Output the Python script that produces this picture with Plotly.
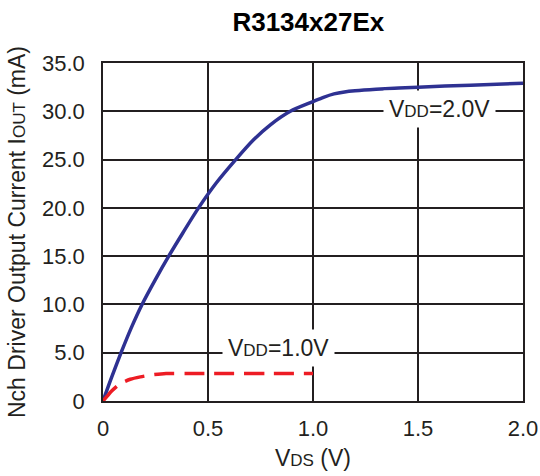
import plotly.graph_objects as go

# Data
vds_2v = [0, 0.04, 0.086, 0.135, 0.186, 0.25, 0.313, 0.38, 0.455, 0.54, 0.632, 0.717, 0.797, 0.892, 1.0, 1.05, 1.1, 1.15, 1.2, 1.3, 1.5, 1.75, 2.0]
iout_2v = [0, 2.4, 5.0, 7.6, 10.0, 12.6, 15.0, 17.4, 20.0, 22.6, 25.0, 27.05, 28.6, 30.0, 31.0, 31.45, 31.8, 32.0, 32.12, 32.28, 32.5, 32.7, 32.9]

vds_1v = [0, 0.02, 0.04, 0.082, 0.13, 0.178, 0.23, 0.3, 0.4, 0.5, 0.6, 0.8, 1.0]
iout_1v = [0, 0.5, 1.0, 1.8, 2.25, 2.5, 2.7, 2.84, 2.85, 2.85, 2.85, 2.85, 2.85]

x_tickvals = [0, 0.5, 1.0, 1.5, 2.0]
x_ticktext = ["0", "0.5", "1.0", "1.5", "2.0"]
y_tickvals = [0, 5, 10, 15, 20, 25, 30, 35]
y_ticktext = ["0", "5.0", "10.0", "15.0", "20.0", "25.0", "30.0", "35.0"]

FONT = "Liberation Sans, Arial, sans-serif"
TXT = "#231f20"

fig = go.Figure()
fig.add_trace(go.Scatter(x=vds_2v, y=iout_2v, mode="lines",
                         line=dict(color="#2e3192", width=3.5, shape="spline", smoothing=0.8),
                         showlegend=False, hoverinfo="skip"))
fig.add_trace(go.Scatter(x=vds_1v, y=iout_1v, mode="lines",
                         line=dict(color="#ed1c24", width=3.5, dash="20px,10px", shape="spline", smoothing=0.6),
                         showlegend=False, hoverinfo="skip"))

fig.add_annotation(x=1.6, y=30.2, xref="x", yref="y",
                   text="V<span style='font-size:17px'>DD</span>=2.0V",
                   showarrow=False, bgcolor="white", borderpad=5,
                   font=dict(family=FONT, size=23, color=TXT))
fig.add_annotation(x=0.835, y=5.5, xref="x", yref="y",
                   text="V<span style='font-size:17px'>DD</span>=1.0V",
                   showarrow=False, bgcolor="white", borderpad=5,
                   font=dict(family=FONT, size=23, color=TXT))

fig.update_layout(
    width=540, height=476,
    margin=dict(l=103, r=17, t=63, b=75),
    paper_bgcolor="white", plot_bgcolor="white",
    font=dict(family=FONT, color=TXT, size=22),
    title=dict(text="<b>R3134x27Ex</b>", x=0.571, xanchor="center", y=0.955, yanchor="middle",
               font=dict(family=FONT, size=26, color="#000000")),
)
fig.update_xaxes(range=[0, 2.0], tickvals=x_tickvals, ticktext=x_ticktext,
                 showgrid=True, gridcolor=TXT, gridwidth=1.5,
                 showline=True, linecolor=TXT, linewidth=1.5, mirror=True,
                 zeroline=False, ticks="outside", ticklen=7, tickcolor="rgba(0,0,0,0)",
                 tickfont=dict(family=FONT, size=22), automargin=False,
                 title=dict(text="V<span style='font-size:17px'>DS</span> (V)", standoff=10,
                            font=dict(family=FONT, size=23)))
fig.update_yaxes(range=[0, 35], tickvals=y_tickvals, ticktext=y_ticktext,
                 showgrid=True, gridcolor=TXT, gridwidth=1.5,
                 showline=True, linecolor=TXT, linewidth=1.5, mirror=True,
                 zeroline=False, ticks="outside", ticklen=12, tickcolor="rgba(0,0,0,0)",
                 tickfont=dict(family=FONT, size=22), automargin=False,
                 title=dict(text="Nch Driver Output Current I<span style='font-size:17px'>OUT</span> (mA)",
                            standoff=10, font=dict(family=FONT, size=23)))

fig.write_html("out.html")
